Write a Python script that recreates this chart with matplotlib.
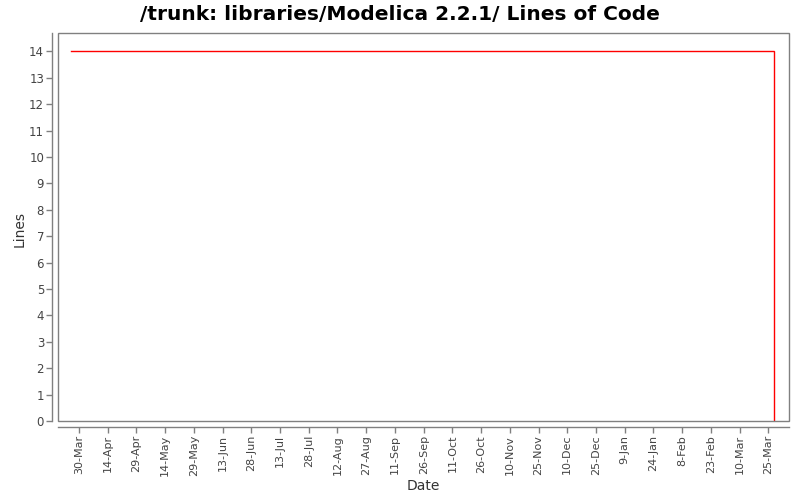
import matplotlib
matplotlib.use("Agg")
import matplotlib.pyplot as plt
import matplotlib.dates as mdates
from matplotlib.patches import Rectangle
import pandas as pd

# Data
dates = ["2006-03-26", "2007-03-28"]
lines = [14, 0]
tick_labels = ["30-Mar", "14-Apr", "29-Apr", "14-May", "29-May", "13-Jun", "28-Jun",
               "13-Jul", "28-Jul", "12-Aug", "27-Aug", "11-Sep", "26-Sep", "11-Oct",
               "26-Oct", "10-Nov", "25-Nov", "10-Dec", "25-Dec", "9-Jan", "24-Jan",
               "8-Feb", "23-Feb", "10-Mar", "25-Mar"]
y_ticks = list(range(0, 15))

x = pd.to_datetime(dates)
tick_dates = pd.date_range("2006-03-30", periods=len(tick_labels), freq="15D")

fig = plt.figure(figsize=(8, 5), dpi=100)
ax = fig.add_axes([58/800, 1-421/500, (789-58)/800, (421-33)/500])

ax.plot(x, lines, color="#ff0000", lw=1.0, drawstyle="steps-post", solid_joinstyle="miter")

t0 = mdates.date2num(pd.Timestamp("2006-03-30"))
t1 = mdates.date2num(pd.Timestamp("2007-03-25"))
ax.set_xlim(t0 - 10.97, t1 + 10.8)
ax.set_ylim(0, 14.7)

ax.set_xticks(mdates.date2num(tick_dates))
ax.set_xticklabels(tick_labels)
ax.set_yticks(y_ticks)
ax.set_yticklabels([str(v) for v in y_ticks])

gray = "#808080"
for s in ["top", "right"]:
    ax.spines[s].set_visible(False)
for s in ["left", "bottom"]:
    ax.spines[s].set_position(("outward", 4))
    ax.spines[s].set_color(gray)
    ax.spines[s].set_linewidth(1.0)
ax.tick_params(axis="both", direction="out", length=4, width=1, color=gray, pad=2,
               labelcolor="#444444")
ax.tick_params(axis="x", labelrotation=90, labelsize=8.0)
ax.tick_params(axis="y", labelsize=8.5)

ax.add_patch(Rectangle((0, 0), 1, 1, transform=ax.transAxes, fill=False,
                       edgecolor=gray, lw=1.0, clip_on=False, zorder=5))

fig.text(423.5/800, 1-486/500, "Date", fontsize=10, color="#333333",
         ha="center", va="center")
fig.text(20/800, 1-229/500, "Lines", fontsize=10, color="#333333",
         ha="center", va="center", rotation=90)
fig.suptitle("/trunk: libraries/Modelica 2.2.1/ Lines of Code", fontsize=14.5,
             fontweight="bold", y=0.99)

fig.savefig("out.png", dpi=100)
